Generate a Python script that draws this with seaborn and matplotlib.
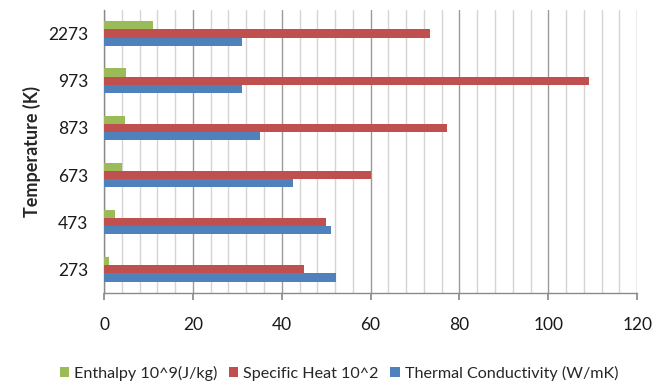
import matplotlib
matplotlib.use("Agg")
import matplotlib.pyplot as plt
import seaborn as sns
import pandas as pd
from matplotlib.ticker import MultipleLocator
from matplotlib.patches import Patch

temperatures = ["2273", "973", "873", "673", "473", "273"]
enthalpy = [11.0, 5.0, 4.7, 4.1, 2.4, 1.2]
specific_heat = [73.4, 109.1, 77.3, 60.0, 50.0, 45.1]
thermal_cond = [31.0, 31.0, 35.1, 42.6, 51.1, 52.1]
series_names = ["Enthalpy 10^9(J/kg)", "Specific Heat 10^2", "Thermal Conductivity (W/mK)"]
colors = ["#9BBB59", "#C0504D", "#4F81BD"]

rows = []
for name, vals in zip(series_names, [enthalpy, specific_heat, thermal_cond]):
    for t, v in zip(temperatures, vals):
        rows.append({"Temperature": t, "Value": v, "Series": name})
df = pd.DataFrame(rows)

sns.set_theme(style="white")
plt.rcParams["font.family"] = ["Lato", "DejaVu Sans"]

fig = plt.figure(figsize=(6.63, 3.81), dpi=100)
ax = fig.add_axes([0.157, 0.231, 0.804, 0.743])

sns.barplot(data=df, y="Temperature", x="Value", hue="Series", order=temperatures,
            hue_order=series_names, palette=colors, orient="h", width=0.52,
            saturation=1, ax=ax, legend=False, zorder=3, linewidth=0, edgecolor="none")

ax.set_xlim(0, 120)
ax.xaxis.set_major_locator(MultipleLocator(20))
ax.xaxis.set_minor_locator(MultipleLocator(4))
ax.grid(axis="x", which="major", color="#9a9a9a", linewidth=1.0, zorder=0)
ax.grid(axis="x", which="minor", color="#d4d4d4", linewidth=1.0, zorder=0)
ax.grid(axis="y", visible=False)
ax.set_axisbelow(True)

for s in ["top", "right"]:
    ax.spines[s].set_visible(False)
for s in ["left", "bottom"]:
    ax.spines[s].set_color("#8a8a8a")
    ax.spines[s].set_linewidth(1.0)

ax.tick_params(axis="x", which="major", direction="out", length=5, color="#8a8a8a",
               labelsize=12.5, pad=12, bottom=True)
ax.tick_params(axis="x", which="minor", length=0)
ax.tick_params(axis="y", length=0, labelsize=12.5, pad=11.5)
for lbl in ax.get_xticklabels() + ax.get_yticklabels():
    lbl.set_color("#1a1a1a")

ax.set_xlabel("")
ax.set_ylabel("Temperature (K)", fontsize=13, fontweight="bold", labelpad=10)
ax.yaxis.set_label_coords(-0.118, 0.5)

handles = [Patch(facecolor=c, edgecolor="none") for c in colors]
fig.legend(handles, series_names, loc="lower center", bbox_to_anchor=(0.511, -0.037),
           ncol=3, frameon=False, fontsize=11.6, handlelength=0.6, handleheight=0.6,
           handletextpad=0.3, columnspacing=0.7)

fig.savefig("out.png", dpi=100)
